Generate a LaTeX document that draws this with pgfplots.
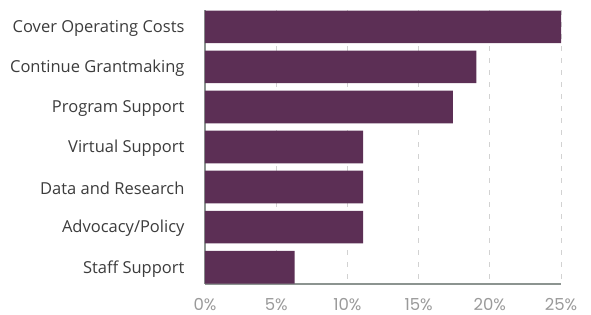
\documentclass[border=0pt]{standalone}
\usepackage{fontspec}
\setmainfont{Open Sans}
\newfontfamily\tickfont{Poppins}
\usepackage{pgfplots}
\pgfplotsset{compat=1.18}
\definecolor{barc}{HTML}{5C2F55}
\definecolor{axc}{HTML}{8C9490}
\definecolor{gridc}{HTML}{D2D2D2}
\definecolor{labc}{HTML}{3C3C3C}
\definecolor{tickc}{HTML}{9A9A9A}
\begin{document}
\begin{tikzpicture}
\begin{axis}[
  scale only axis, width=356bp, height=274bp,
  xbar, bar width=0.815,
  xmin=0, xmax=25, ymin=-0.42, ymax=6.42, y dir=reverse,
  ytick={0,...,6},
  yticklabels={Cover Operating Costs, Continue Grantmaking, Program Support, Virtual Support, Data and Research, Advocacy/Policy, Staff Support},
  xtick={0,5,...,25},
  xticklabels={0\%,5\%,10\%,15\%,20\%,25\%},
  major tick length=0pt,
  axis x line*=bottom, axis y line*=left,
  axis line style={-, draw=axc, line width=1.6pt},
  xmajorgrids, grid style={draw=gridc, line width=0.8pt, dash pattern=on 5bp off 7bp},
  yticklabel style={font=\fontsize{16.5bp}{18bp}\selectfont, text=labc, xshift=-17bp, yshift=-1.5bp},
  xticklabel style={font=\tickfont\fontsize{16.5bp}{18bp}\selectfont, text=tickc, yshift=-11bp},
  clip=false,
]
\addplot[fill=barc, draw=none] coordinates {
(25,0) (19.05,1) (17.4,2) (11.1,3) (11.1,4) (11.1,5) (6.3,6)};
\end{axis}
\pgfresetboundingbox
\path[use as bounding box] (-205bp,-31bp) rectangle (386bp,284bp);
\end{tikzpicture}
\end{document}
